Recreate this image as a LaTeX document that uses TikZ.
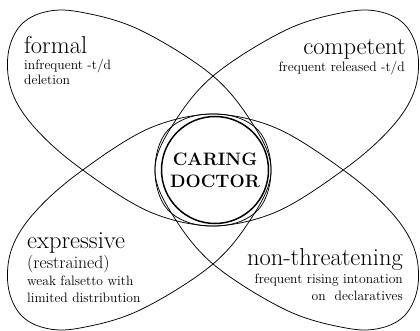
\documentclass[tikz,border=0pt]{standalone}
\begin{document}
\begin{tikzpicture}[x=1pt,y=-1pt,
  lobe/.style={draw=black, line width=0.75pt},
  biglab/.style={font=\fontsize{24.5}{28}\selectfont, inner sep=0pt},
  sublab/.style={font=\fontsize{13.6}{16}\selectfont, inner sep=0pt},
  core/.style={circle, draw, line width=1.5pt, minimum size=107pt, inner sep=0pt, align=center,
    font=\fontsize{18}{22}\selectfont\bfseries}]
\useasboundingbox (0,0) rectangle (420,331);
\def\eggpath{plot[smooth cycle, tension=0.6] coordinates {(8,55) (20,26) (45,12) (80,12) (140,30) (213,76) (254,126) (271,168) (258,210) (216,226) (150,212) (80,168) (35,128) (12,92)}}
% formal egg
\draw[lobe] \eggpath;
% competent egg (mirror in x)
\begin{scope}[shift={(426,0)}, xscale=-1]
\draw[lobe] \eggpath;
\end{scope}
% expressive egg (mirror in y)
\begin{scope}[shift={(0,340)}, yscale=-1]
\draw[lobe] \eggpath;
\end{scope}
% non-threatening egg (mirror in both)
\begin{scope}[shift={(426,340)}, xscale=-1, yscale=-1]
\draw[lobe] \eggpath;
\end{scope}
% centre
\node[core] (core) at (215,170) {CARING\\DOCTOR};
% labels
\node[biglab, anchor=base west] (formal) at (24,54) {formal};
\node[sublab, anchor=base west] (formal1) at (24,70) {infrequent -t/d};
\node[sublab, anchor=base west] (formal2) at (24,85) {deletion};
\node[biglab, anchor=base east] (comp) at (406,55) {competent};
\node[sublab, anchor=base east] (comp1) at (405,72) {frequent released -t/d};
\node[biglab, anchor=base west] (expr) at (27,248.5) {expressive};
\node[biglab, anchor=base west] (expr1) at (27,268.5) {\scalebox{0.72}{(restrained)}};
\node[sublab, anchor=base west] (expr2) at (27,285.5) {weak falsetto with};
\node[sublab, anchor=base west] (expr3) at (27,302) {limited distribution};
\node[biglab, anchor=base east] (nont) at (403,265) {non-threatening};
\node[sublab, anchor=base east] (nont1) at (403,283) {frequent rising intonation};
\node[sublab, anchor=base east] (nont2) at (403,300) {on\ \ declaratives};
\end{tikzpicture}
\end{document}
